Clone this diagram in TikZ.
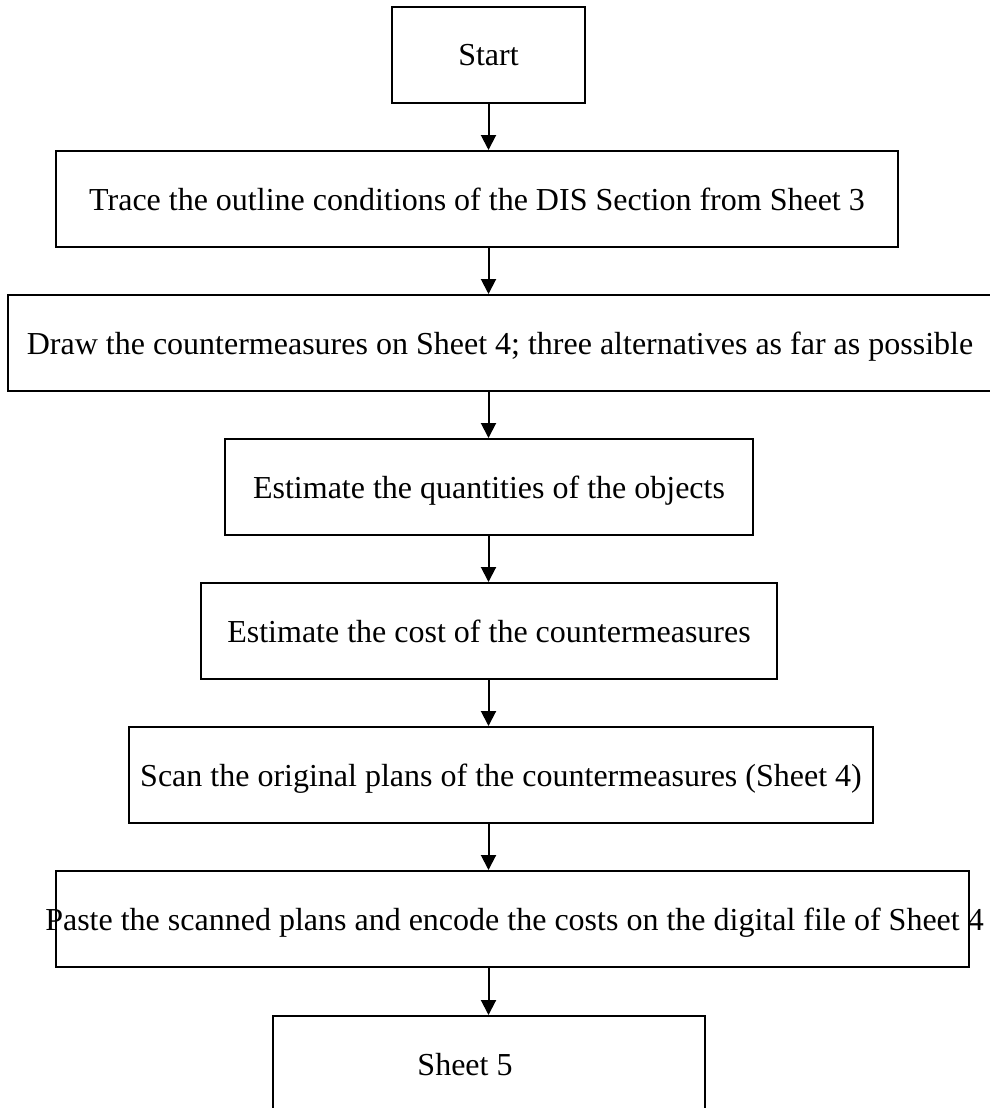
\documentclass[tikz,border=0pt]{standalone}
\usepackage{fontspec}
\setmainfont{Liberation Serif}
\usetikzlibrary{arrows.meta}
\begin{document}
\begin{tikzpicture}[x=1pt,y=-1pt,
 box/.style={draw=black, line width=2pt, inner sep=0pt, minimum height=96pt},
 lbl/.style={font=\fontsize{32}{38}\selectfont, anchor=base, inner sep=0pt},
 arr/.style={line width=2pt, -{Triangle[length=15pt,width=15pt]}}]
\useasboundingbox (0,0) rectangle (990,1108);
\clip (0,0) rectangle (990,1108);
\fill[white] (0,0) rectangle (990,1108);
% boxes
\node[box, minimum width=193pt] (start) at (488.5,55) {};
\node[box, minimum width=842pt] (trace) at (477,199) {};
\node[box, minimum width=984pt] (drawc) at (500,343) {};
\node[box, minimum width=528pt] (quant) at (489,487) {};
\node[box, minimum width=576pt] (cost) at (489,631) {};
\node[box, minimum width=744pt] (scan) at (501,775) {};
\node[box, minimum width=913pt] (paste) at (512.5,919) {};
\node[box, minimum width=432pt] (sheet) at (489,1064) {};
% texts
\node[lbl] (tstart) at ([yshift=-11pt]start.center) {Start};
\node[lbl] (ttrace) at ([yshift=-11pt]trace.center) {Trace the outline conditions of the DIS Section from Sheet 3};
\node[lbl] (tdraw) at ([yshift=-11pt]drawc.center) {Draw the countermeasures on Sheet 4; three alternatives as far as possible};
\node[lbl] (tquant) at ([yshift=-11pt]quant.center) {Estimate the quantities of the objects};
\node[lbl] (tcost) at ([yshift=-11pt]cost.center) {Estimate the cost of the countermeasures};
\node[lbl] (tscan) at ([yshift=-11pt]scan.center) {Scan the original plans of the countermeasures (Sheet 4)};
\node[lbl] (tpaste) at ([xshift=2pt,yshift=-11pt]paste.center) {Paste the scanned plans and encode the costs on the digital file of Sheet 4};
\node[lbl] (tsheet) at ([xshift=-24pt,yshift=-11pt]sheet.center) {Sheet 5};
% connectors
\draw[arr] (start.south) -- (start.south |- trace.north);
\draw[arr] (trace.south -| start.south) -- (drawc.north -| start.south);
\draw[arr] (drawc.south -| start.south) -- (quant.north -| start.south);
\draw[arr] (quant.south -| start.south) -- (cost.north -| start.south);
\draw[arr] (cost.south -| start.south) -- (scan.north -| start.south);
\draw[arr] (scan.south -| start.south) -- (paste.north -| start.south);
\draw[arr] (paste.south -| start.south) -- (sheet.north -| start.south);
\end{tikzpicture}
\end{document}
